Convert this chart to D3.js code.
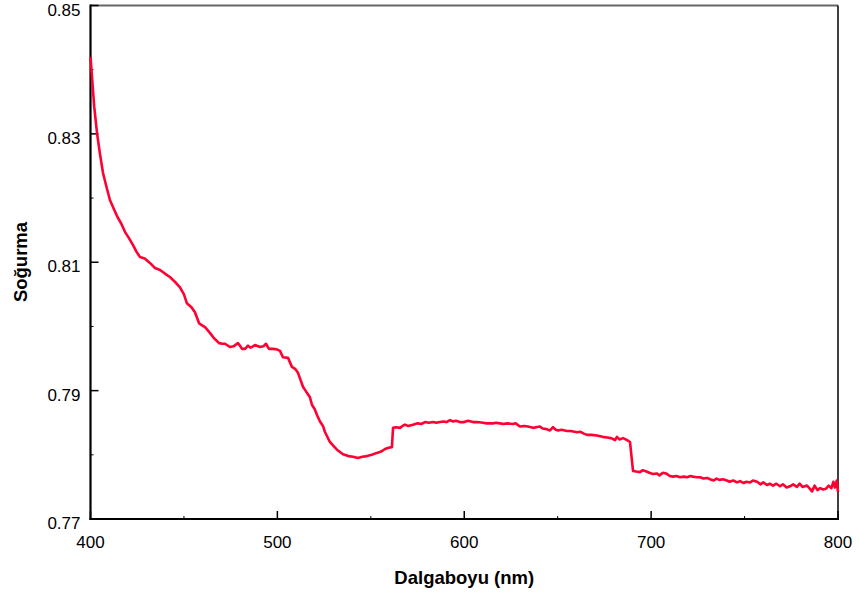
<!DOCTYPE html>
<meta charset="utf-8">
<style>
  body { margin: 0; background: #fff; }
  text { font-family: "Liberation Sans", Arial, sans-serif; fill: #000; }
  .tick-label { font-size: 17px; }
  .title { font-size: 18.5px; font-weight: bold; }
  .spectrum { fill: none; stroke: #ff0033; stroke-width: 2.6; stroke-linejoin: round; }
</style>
<body>
<script src="https://d3js.org/d3.v7.min.js"></script>
<script>
// wavelength (nm) and absorbance
var wavelength = [400, 402, 403.5, 405, 406.7, 408.5, 410.4, 412.5, 414.7, 416.5, 418.5, 420.5, 422.7, 424.5, 426.5, 429, 431.8, 434.5, 437.2, 440,
  442.5, 445, 447.9, 450, 451.6, 454, 455.9, 458.1, 459.5, 461.3, 463.9, 466, 468.8, 470.5, 472, 474.6, 476.5, 478.9, 480, 481.1,
  482.7, 484.3, 485.5, 486.4, 488, 490.7, 492.5, 493.9, 495.5, 497.7, 500, 501.4, 503, 505.7, 507.8, 509.5, 511, 513.7, 515.5, 517.4,
  518.5, 520, 521.2, 522.8, 524.4, 525.4, 528.1, 530, 531.9, 535.1, 538, 540.5, 543.1, 545.5, 547.9, 550.5, 553.3, 555.5, 557.6, 559.5,
  561.3, 561.9, 563.5, 565.6, 567, 568.3, 570, 572.6, 575, 577, 579, 581, 583.5, 585, 587, 589, 590.5, 592.4, 594, 595.5,
  597.7, 600, 602, 604.7, 607, 610, 612, 615.4, 617, 619.1, 621, 623, 626.1, 627.5, 629.8, 632, 634, 636.8, 638.5, 640.5,
  642, 644, 645.9, 647.5, 649, 650.2, 652, 655, 657, 660.3, 662, 664, 665.7, 668, 671, 674, 676.4, 678.5, 680.7, 681.7,
  683, 685, 687.1, 688.7, 690.3, 692, 694, 695.6, 697.5, 699, 701, 703, 704.5, 706.3, 708, 710, 711.7, 713.5, 715.5, 717.5,
  719.2, 721, 722.4, 724.5, 726.2, 728, 730, 731.5, 733.5, 735, 736.5, 738.5, 740.5, 742, 744, 746, 747.6, 749.5, 751, 753,
  754.5, 756.7, 758.5, 760, 762, 763.5, 765.2, 767, 769, 770.5, 772.5, 774.3, 776, 778, 779.5, 781, 783.4, 785, 786.1, 787.5,
  789, 790.5, 792, 793.5, 795, 796.5, 797.5, 798.4, 799.3, 800];

var absorbance = [0.8420, 0.8342, 0.8301, 0.8270, 0.8239, 0.8218, 0.8197, 0.8183, 0.8169, 0.8160, 0.8147, 0.8138, 0.8127, 0.8117, 0.8108, 0.8106, 0.8099, 0.8091, 0.8088, 0.8082,
  0.8077, 0.8070, 0.8061, 0.8050, 0.8036, 0.8030, 0.8022, 0.8005, 0.8002, 0.7999, 0.7990, 0.7982, 0.7974, 0.7973, 0.7973, 0.7968, 0.7969, 0.7974, 0.7970, 0.7965,
  0.7965, 0.7970, 0.7967, 0.7968, 0.7971, 0.7968, 0.7969, 0.7973, 0.7965, 0.7965, 0.7964, 0.7962, 0.7952, 0.7951, 0.7937, 0.7934, 0.7928, 0.7906, 0.7898, 0.7890,
  0.7878, 0.7871, 0.7862, 0.7852, 0.7845, 0.7836, 0.7820, 0.7814, 0.7808, 0.7801, 0.7798, 0.7797, 0.7795, 0.7797, 0.7798, 0.7800, 0.7803, 0.7805, 0.7809, 0.7811,
  0.7812, 0.7842, 0.7843, 0.7842, 0.7845, 0.7847, 0.7845, 0.7847, 0.7849, 0.7848, 0.7851, 0.7850, 0.7851, 0.7850, 0.7851, 0.7852, 0.7851, 0.7854, 0.7852, 0.7853,
  0.7851, 0.7851, 0.7853, 0.7851, 0.7851, 0.7850, 0.7849, 0.7849, 0.7850, 0.7849, 0.7848, 0.7849, 0.7848, 0.7849, 0.7844, 0.7845, 0.7844, 0.7842, 0.7843, 0.7844,
  0.7841, 0.7840, 0.7838, 0.7843, 0.7839, 0.7838, 0.7839, 0.7837, 0.7837, 0.7835, 0.7836, 0.7833, 0.7831, 0.7831, 0.7830, 0.7828, 0.7827, 0.7826, 0.7823, 0.7828,
  0.7824, 0.7826, 0.7823, 0.7820, 0.7775, 0.7774, 0.7773, 0.7776, 0.7774, 0.7772, 0.7770, 0.7771, 0.7768, 0.7772, 0.7771, 0.7767, 0.7766, 0.7767, 0.7765, 0.7766,
  0.7765, 0.7767, 0.7766, 0.7765, 0.7765, 0.7763, 0.7764, 0.7762, 0.7760, 0.7763, 0.7761, 0.7762, 0.7760, 0.7758, 0.7760, 0.7757, 0.7759, 0.7756, 0.7758, 0.7757,
  0.7760, 0.7758, 0.7754, 0.7757, 0.7753, 0.7755, 0.7752, 0.7755, 0.7751, 0.7754, 0.7749, 0.7751, 0.7754, 0.7750, 0.7755, 0.7750, 0.7752, 0.7747, 0.7743, 0.7752,
  0.7745, 0.7748, 0.7746, 0.7747, 0.7752, 0.7748, 0.7758, 0.7749, 0.7760, 0.7742];

var xTicks = [400, 500, 600, 700, 800];
var xMinor = [450, 550, 650, 750];
var yTicks = [0.77, 0.79, 0.81, 0.83, 0.85];
var yMinor = [0.78, 0.80, 0.82, 0.84];

var width = 859, height = 600;
var plot = {left: 90.5, right: 838, top: 5.5, bottom: 519};

var svg = d3.select("body").append("svg")
    .attr("width", width)
    .attr("height", height);

var x = d3.scaleLinear().domain([400, 800]).range([plot.left, plot.right]);
var y = d3.scaleLinear().domain([0.77, 0.85]).range([plot.bottom, plot.top]);

// frame: grey top, thin black right
svg.append("line")
    .attr("x1", plot.left).attr("x2", plot.right)
    .attr("y1", plot.top).attr("y2", plot.top)
    .style("stroke", "#666").style("stroke-width", 2);
svg.append("line")
    .attr("x1", plot.right).attr("x2", plot.right)
    .attr("y1", plot.top).attr("y2", plot.bottom)
    .style("stroke", "#000").style("stroke-width", 1.5);

// ticks point inward
var yAxis = svg.append("g").attr("transform", "translate(" + plot.left + ",0)");
yAxis.selectAll(".major").data(yTicks).enter().append("line")
    .attr("x1", 0).attr("x2", 8)
    .attr("y1", function(d) { return y(d); }).attr("y2", function(d) { return y(d); })
    .style("stroke", "#000").style("stroke-width", 1.5);
yAxis.selectAll(".minor").data(yMinor).enter().append("line")
    .attr("x1", 0).attr("x2", 3)
    .attr("y1", function(d) { return y(d); }).attr("y2", function(d) { return y(d); })
    .style("stroke", "#000").style("stroke-width", 1);
yAxis.selectAll("text").data(yTicks).enter().append("text")
    .attr("class", "tick-label")
    .attr("x", -10)
    .attr("y", function(d) { return y(d) + 10; })
    .attr("text-anchor", "end")
    .text(function(d) { return d3.format(".2f")(d); });

var xAxis = svg.append("g").attr("transform", "translate(0," + plot.bottom + ")");
xAxis.selectAll(".major").data(xTicks).enter().append("line")
    .attr("y1", 0).attr("y2", -8)
    .attr("x1", function(d) { return x(d); }).attr("x2", function(d) { return x(d); })
    .style("stroke", "#000").style("stroke-width", 1.5);
xAxis.selectAll(".minor").data(xMinor).enter().append("line")
    .attr("y1", 0).attr("y2", -3)
    .attr("x1", function(d) { return x(d); }).attr("x2", function(d) { return x(d); })
    .style("stroke", "#000").style("stroke-width", 1);
xAxis.selectAll("text").data(xTicks).enter().append("text")
    .attr("class", "tick-label")
    .attr("x", function(d) { return x(d); })
    .attr("y", 29)
    .attr("text-anchor", "middle")
    .text(function(d) { return d; });

// axis lines
svg.append("line")
    .attr("x1", plot.left).attr("x2", plot.left)
    .attr("y1", plot.top - 1).attr("y2", plot.bottom + 1)
    .style("stroke", "#000").style("stroke-width", 2.2);
svg.append("line")
    .attr("x1", plot.left - 1).attr("x2", plot.right + 1)
    .attr("y1", plot.bottom).attr("y2", plot.bottom)
    .style("stroke", "#000").style("stroke-width", 2.2);

var line = d3.line()
    .x(function(d) { return x(d[0]); })
    .y(function(d) { return y(d[1]); });

svg.append("path")
    .datum(d3.zip(wavelength, absorbance))
    .attr("class", "spectrum")
    .attr("d", line);

svg.append("text")
    .attr("class", "title")
    .attr("x", (plot.left + plot.right) / 2)
    .attr("y", 584)
    .attr("text-anchor", "middle")
    .text("Dalgaboyu (nm)");

svg.append("text")
    .attr("class", "title")
    .attr("transform", "translate(27,262) rotate(-90)")
    .attr("text-anchor", "middle")
    .text("Soğurma");
</script>
</body>
</html>
